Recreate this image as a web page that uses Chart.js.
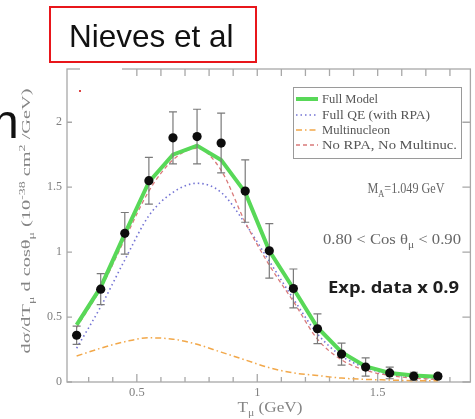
<!DOCTYPE html>
<html>
<head>
<meta charset="utf-8">
<script src="https://cdn.jsdelivr.net/npm/chart.js@4.4.1/dist/chart.umd.min.js"></script>
<style>
  html, body { margin: 0; padding: 0; background: #fff; }
  body { width: 475px; height: 419px; position: relative; overflow: hidden; }
  #fig { position: absolute; left: 0; top: 0; width: 475px; height: 419px; filter: blur(0.55px); }
  #title {
    position: absolute; left: 49px; top: 6px; width: 204px; height: 53px;
    border: 2px solid #e8161b; font-family: "Liberation Sans", Arial, sans-serif;
    font-size: 31.5px; line-height: 53px; color: #111; box-sizing: content-box;
  }
  #title span { position: absolute; left: 18px; top: 2px; }
  #cut { position: absolute; left: -8px; top: 92px; font-family: "Liberation Sans", Arial, sans-serif;
    font-size: 48px; line-height: 60px; color: #111; }
</style>
</head>
<body>
<div id="fig"><canvas id="c" width="475" height="419"></canvas></div>
<div id="title"><span>Nieves et al</span></div>
<div id="cut">n</div>
<script>
// Muon kinetic energy bins (GeV)
const tmu = [0.25, 0.35, 0.45, 0.55, 0.65, 0.75, 0.85, 0.95, 1.05, 1.15, 1.25, 1.35, 1.45, 1.55, 1.65, 1.75];
// Measured cross section (scaled by 0.9) and its uncertainty
const expData = [0.36, 0.715, 1.145, 1.55, 1.88, 1.89, 1.84, 1.47, 1.01, 0.72, 0.41, 0.215, 0.115, 0.07, 0.045, 0.045];
const expErr  = [0.07, 0.12, 0.16, 0.18, 0.20, 0.21, 0.23, 0.24, 0.21, 0.15, 0.115, 0.085, 0.07, 0.045, 0.03, 0.02];
// Model curves
const fullModel    = [0.44, 0.73, 1.14, 1.54, 1.75, 1.82, 1.71, 1.46, 1.01, 0.72, 0.42, 0.23, 0.12, 0.07, 0.05, 0.04];
const fullQE       = [0.26, 0.58, 0.94, 1.28, 1.46, 1.53, 1.46, 1.22, 0.93, 0.64, 0.37, 0.20, 0.11, 0.06, 0.04, 0.03];
const multinucleon = [0.20, 0.26, 0.31, 0.34, 0.33, 0.29, 0.23, 0.17, 0.11, 0.07, 0.05, 0.03, 0.02, 0.015, 0.01, 0.01];
const noRPA        = [0.42, 0.72, 1.10, 1.47, 1.71, 1.80, 1.63, 1.23, 0.90, 0.62, 0.33, 0.17, 0.09, 0.05, 0.03, 0.02];
const seriesNames  = ['Full Model', 'Full QE (with RPA)', 'Multinucleon', 'No RPA, No Multinuc.'];
// Axis ticks
const xTickValues  = [0.5, 1, 1.5];
const xMinorTicks  = [0.3, 0.4, 0.5, 0.6, 0.7, 0.8, 0.9, 1.0, 1.1, 1.2, 1.3, 1.4, 1.5, 1.6, 1.7, 1.8];
const yTickValues  = [0, 0.5, 1, 1.5, 2];

const pts = arr => tmu.map((x, i) => ({ x, y: arr[i] }));
const SERIF = '"Liberation Serif", "DejaVu Serif", serif';
const AXIS_GRAY = '#a8a8a8';
const TEXT_GRAY = '#858585';

// Draw a run of text with subscripts (1) and superscripts (2)
function drawParts(ctx, parts, x, y, size, family, align, color, weight, fitW) {
  const fontFor = k => `${weight || ''} ${k ? size * 0.68 : size}px ${family}`;
  let w = 0;
  parts.forEach(([t, k]) => { ctx.font = fontFor(k); w += ctx.measureText(t).width; });
  const sx = fitW ? fitW / w : 1;
  const total = w * sx;
  const start = align === 'center' ? x - total / 2 : align === 'right' ? x - total : x;
  ctx.save();
  ctx.translate(start, y);
  ctx.scale(sx, 1);
  ctx.fillStyle = color;
  ctx.textBaseline = 'alphabetic';
  ctx.textAlign = 'left';
  let cx = 0;
  parts.forEach(([t, k]) => {
    ctx.font = fontFor(k);
    const dy = k === 1 ? size * 0.3 : k === 2 ? -size * 0.42 : 0;
    ctx.fillText(t, cx, dy);
    cx += ctx.measureText(t).width;
  });
  ctx.restore();
}

const decorPlugin = {
  id: 'decor',
  beforeDatasetsDraw(chart) {
    const { ctx, chartArea: a, scales: { x, y } } = chart;
    ctx.save();
    ctx.strokeStyle = AXIS_GRAY;
    ctx.lineWidth = 1.3;
    ctx.strokeRect(a.left, a.top, a.right - a.left, a.bottom - a.top);
    ctx.beginPath();
    xMinorTicks.forEach(v => {
      const px = x.getPixelForValue(v);
      const major = xTickValues.some(t => Math.abs(t - v) < 1e-9);
      const len = major ? 8 : 5;
      ctx.moveTo(px, a.bottom); ctx.lineTo(px, a.bottom - len);
      ctx.moveTo(px, a.top); ctx.lineTo(px, a.top + 7);
    });
    yTickValues.forEach(v => {
      const py = y.getPixelForValue(v);
      ctx.moveTo(a.left, py); ctx.lineTo(a.left + 5, py);
      ctx.moveTo(a.right, py); ctx.lineTo(a.right - 8, py);
    });
    ctx.stroke();
    ctx.restore();
  },
  beforeDatasetDraw(chart, args) {
    if (args.index !== 0) return;
    const { ctx, scales: { x, y } } = chart;
    ctx.save();
    ctx.strokeStyle = '#7a7a7a';
    ctx.lineWidth = 1.2;
    ctx.beginPath();
    tmu.forEach((t, i) => {
      const px = x.getPixelForValue(t);
      const top = y.getPixelForValue(expData[i] + expErr[i]);
      const bot = y.getPixelForValue(expData[i] - expErr[i]);
      ctx.moveTo(px, top); ctx.lineTo(px, bot);
      ctx.moveTo(px - 4, top); ctx.lineTo(px + 4, top);
      ctx.moveTo(px - 4, bot); ctx.lineTo(px + 4, bot);
    });
    ctx.stroke();
    ctx.restore();
  },
  afterDraw(chart) {
    const { ctx } = chart;
    ctx.save();
    // blank corner patch over the frame
    ctx.fillStyle = '#ffffff';
    ctx.fillRect(80, 66, 42, 57);
    ctx.fillStyle = '#d44';
    ctx.fillRect(79, 90, 2, 2);

    // legend box
    ctx.strokeStyle = '#9a9a9a';
    ctx.lineWidth = 1;
    ctx.strokeRect(293.5, 87.5, 168, 71);
    const order = [1, 3, 4, 2];
    const rows = [99, 115, 130, 145];
    order.forEach((di, r) => {
      const ds = chart.data.datasets[di];
      ctx.save();
      ctx.strokeStyle = ds.borderColor;
      ctx.lineWidth = ds.borderWidth;
      ctx.setLineDash(ds.borderDash || []);
      ctx.beginPath();
      ctx.moveTo(296, rows[r]); ctx.lineTo(318, rows[r]);
      ctx.stroke();
      ctx.restore();
    });
    const legendW = [56, 108, 68, 135];
    seriesNames.forEach((name, r) => {
      drawParts(ctx, [[name, 0]], 322, rows[r] + 4, 12, SERIF, 'left', '#555', '', legendW[r]);
    });

    // annotations
    drawParts(ctx, [['M', 0], ['A', 1], ['=1.049 GeV', 0]], 406, 193, 14.5, SERIF, 'center', '#666', '', 77);
    drawParts(ctx, [['0.80 < Cos \u03b8', 0], ['\u03bc', 1], [' < 0.90', 0]], 392, 244, 14, SERIF, 'center', '#666', '', 138);
    drawParts(ctx, [['Exp. data x 0.9', 0]], 393.5, 293, 16.5, '"Open Sans", sans-serif', 'center', '#1e1e1e', 'bold', 131);

    // axis titles
    drawParts(ctx, [['T', 0], ['\u03bc', 1], [' (GeV)', 0]], 270, 412, 14.5, SERIF, 'center', TEXT_GRAY, '', 65);
    ctx.save();
    ctx.translate(30, 221);
    ctx.rotate(-Math.PI / 2);
    drawParts(ctx, [['d\u03c3/dT', 0], ['\u03bc', 1], [' d cos\u03b8', 0], ['\u03bc', 1], [' (10', 0], ['-38', 2], [' cm', 0], ['2', 2], [' /GeV)', 0]],
      0, 0, 12.5, SERIF, 'center', TEXT_GRAY, '', 265);
    ctx.restore();
    ctx.restore();
  }
};

new Chart(document.getElementById('c'), {
  type: 'line',
  data: {
    datasets: [
      { label: 'Exp. data', data: pts(expData), showLine: false, pointRadius: 4.6,
        pointBackgroundColor: '#0d0d0d', pointBorderWidth: 0 },
      { label: seriesNames[0], data: pts(fullModel), borderColor: '#58d858', borderWidth: 4,
        pointRadius: 0, tension: 0 },
      { label: seriesNames[3], data: pts(noRPA), borderColor: '#d97a7a', borderWidth: 1.3,
        borderDash: [4, 3], pointRadius: 0, cubicInterpolationMode: 'monotone' },
      { label: seriesNames[1], data: pts(fullQE), borderColor: '#7474d4', borderWidth: 1.6,
        borderDash: [1.5, 3], pointRadius: 0, cubicInterpolationMode: 'monotone' },
      { label: seriesNames[2], data: pts(multinucleon), borderColor: '#f2a84a', borderWidth: 1.5,
        borderDash: [6, 3, 1.5, 3], pointRadius: 0, cubicInterpolationMode: 'monotone' }
    ]
  },
  options: {
    responsive: false,
    animation: false,
    devicePixelRatio: 1,
    layout: { padding: { left: 0, top: 69, right: 3, bottom: 0 } },
    plugins: { legend: { display: false }, tooltip: { enabled: false } },
    scales: {
      x: {
        type: 'linear', min: 0.21, max: 1.885,
        grid: { display: false, drawTicks: false }, border: { display: false },
        afterBuildTicks: s => { s.ticks = xTickValues.map(v => ({ value: v })); },
        afterFit: s => { s.height = 37; },
        ticks: { padding: 3, color: '#808080', font: { family: SERIF, size: 12.5 }, maxRotation: 0,
                 callback: v => String(v) }
      },
      y: {
        type: 'linear', min: 0, max: 2.41,
        grid: { display: false, drawTicks: false }, border: { display: false },
        afterBuildTicks: s => { s.ticks = yTickValues.map(v => ({ value: v })); },
        afterFit: s => { s.width = 67; },
        ticks: { padding: 5, color: '#808080', font: { family: SERIF, size: 12 },
                 callback: v => String(v) }
      }
    }
  },
  plugins: [decorPlugin]
});
</script>
</body>
</html>
